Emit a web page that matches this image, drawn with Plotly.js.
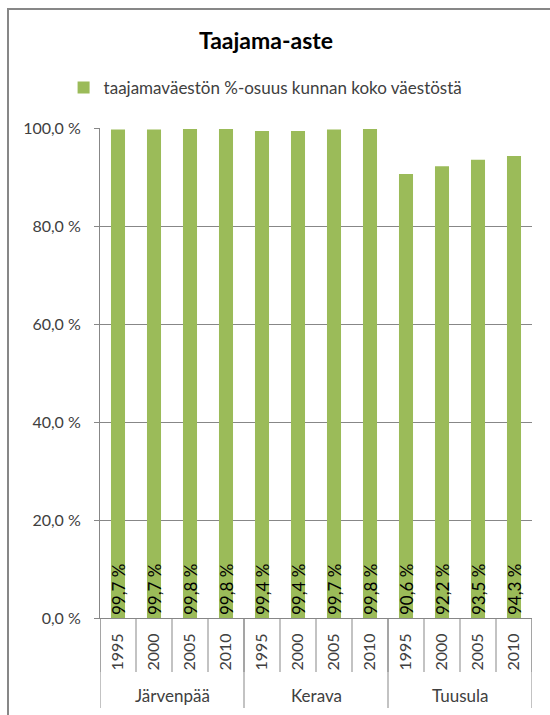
<!DOCTYPE html>
<html>
<head>
<meta charset="utf-8">
<script src="https://cdn.plot.ly/plotly-3.0.1.min.js"></script>
<style>
  html, body { margin: 0; padding: 0; background: #fff; overflow: hidden; }
  #chart { position: absolute; left: 0; top: 0; width: 550px; height: 715px; }
  #frame { position: absolute; left: 7px; top: 8px; width: 600px; height: 800px;
           border-left: 2px solid #878787; border-top: 2px solid #878787; pointer-events: none; }
</style>
</head>
<body>
<div id="chart"></div>
<div id="frame"></div>
<script>
// ---- data ----
const chartTitle = 'Taajama-aste';
const seriesName = 'taajamaväestön %-osuus kunnan koko väestöstä';
const groups = ['Järvenpää', 'Kerava', 'Tuusula'];
const years = ['1995', '2000', '2005', '2010'];
const jarvenpaa = [99.7, 99.7, 99.8, 99.8];
const kerava = [99.4, 99.4, 99.7, 99.8];
const tuusula = [90.6, 92.2, 93.5, 94.3];
const yTicks = [0, 20, 40, 60, 80, 100];

// ---- build ----
const groupValues = [jarvenpaa, kerava, tuusula];
const fmt = v => v.toFixed(1).replace('.', ',') + ' %';
const xIdx = [], yVals = [], xLabels = [], texts = [];
groupValues.forEach((vals) => {
  vals.forEach((v, i) => {
    xIdx.push(xIdx.length);
    yVals.push(v);
    xLabels.push(years[i]);
    texts.push(fmt(v));
  });
});

const FONT = 'Lato, "Open Sans", sans-serif';
const gridCol = '#878787';
const textCol = '#404040';
const plotH = 490;

const shapes = [];
const annotations = [];
// year separators
for (let k = 0; k <= xIdx.length; k++) {
  shapes.push({type: 'line', xref: 'x', yref: 'paper', x0: k - 0.5, x1: k - 0.5,
    y0: 0, y1: -54 / plotH, line: {color: gridCol, width: 1}});
}
// group dividers + labels
let start = 0;
shapes.push({type: 'line', xref: 'x', yref: 'paper', x0: -0.5, x1: -0.5,
  y0: 0, y1: -90 / plotH, line: {color: gridCol, width: 1}});
groupValues.forEach((vals, g) => {
  const end = start + vals.length;
  shapes.push({type: 'line', xref: 'x', yref: 'paper', x0: end - 0.5, x1: end - 0.5,
    y0: 0, y1: -90 / plotH, line: {color: gridCol, width: 1}});
  annotations.push({xref: 'x', yref: 'paper', x: (start + end - 1) / 2, y: -77 / plotH,
    yanchor: 'middle', xanchor: 'center', showarrow: false, text: groups[g],
    font: {family: FONT, size: 17, color: textCol}});
  start = end;
});

const trace = {
  type: 'bar', x: xIdx, y: yVals, name: seriesName,
  marker: {color: '#9BBB59'},
  text: texts, textposition: 'inside', insidetextanchor: 'start',
  textangle: -90, constraintext: 'none',
  textfont: {family: FONT, size: 17, color: '#000'},
  showlegend: true, hoverinfo: 'skip'
};

const layout = {
  width: 550, height: 715,
  margin: {l: 99.5, r: 17.5, t: 128, b: 97, pad: 0},
  paper_bgcolor: '#fff', plot_bgcolor: '#fff',
  font: {family: FONT, color: textCol},
  title: {text: '<b>' + chartTitle + '</b>', font: {family: FONT, size: 23, color: '#000'},
    xref: 'container', yref: 'container', x: 266 / 550, xanchor: 'center',
    y: 1 - 41 / 715, yanchor: 'middle'},
  showlegend: true,
  legend: {orientation: 'h', xref: 'paper', yref: 'paper', x: (63 - 99.5) / 433, xanchor: 'left',
    y: 1 + 40 / plotH, yanchor: 'middle', font: {family: FONT, size: 17, color: textCol},
    itemclick: false},
  bargap: 0.61,
  xaxis: {range: [-0.5, xIdx.length - 0.5], tickvals: xIdx, ticktext: xLabels,
    tickangle: -90, ticks: '', showgrid: false, zeroline: false,
    showline: true, linecolor: gridCol, linewidth: 1, ticklabelstandoff: 8,
    tickfont: {family: FONT, size: 16, color: textCol}, fixedrange: true},
  yaxis: {range: [0, 100], tickvals: yTicks, ticktext: yTicks.map(fmt),
    showgrid: true, gridcolor: gridCol, gridwidth: 1, zeroline: false,
    showline: true, linecolor: gridCol, linewidth: 1,
    ticks: 'outside', ticklen: 5, tickcolor: gridCol, ticklabelstandoff: 10,
    tickfont: {family: FONT, size: 16, color: textCol}, fixedrange: true},
  shapes: shapes, annotations: annotations
};

Plotly.newPlot('chart', [trace], layout, {displayModeBar: false, staticPlot: true});
</script>
</body>
</html>
